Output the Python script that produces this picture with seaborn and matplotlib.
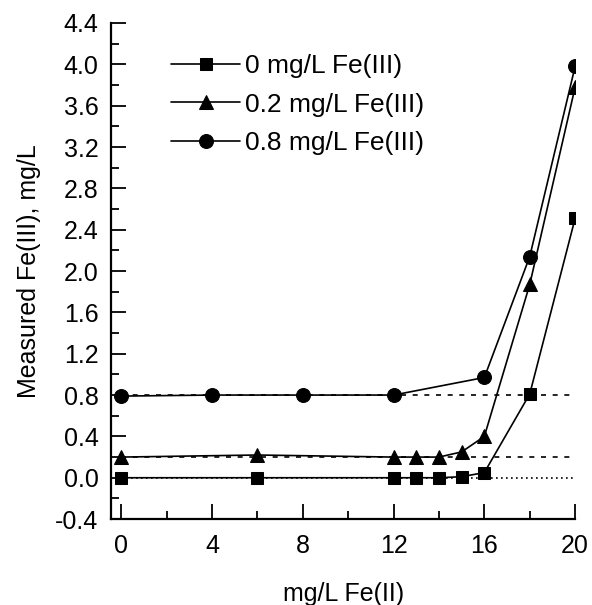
import numpy as np
import pandas as pd
import matplotlib.pyplot as plt
import seaborn as sns

sns.set_style("ticks")
plt.rcParams['font.family'] = ['Liberation Sans', 'DejaVu Sans']
plt.rcParams['axes.unicode_minus'] = False
plt.rcParams['text.color'] = 'black'
plt.rcParams['axes.labelcolor'] = 'black'
plt.rcParams['xtick.color'] = 'black'
plt.rcParams['ytick.color'] = 'black'
plt.rcParams['axes.edgecolor'] = 'black'

# 데이터
x_fe0 = [0, 6, 12, 13, 14, 15, 16, 18, 20]
y_fe0 = [0.0, 0.0, 0.0, 0.0, 0.0, 0.01, 0.05, 0.81, 2.51]

x_fe02 = [0, 6, 12, 13, 14, 15, 16, 18, 20]
y_fe02 = [0.20, 0.22, 0.20, 0.20, 0.20, 0.25, 0.40, 1.87, 3.78]

x_fe08 = [0, 4, 8, 12, 16, 18, 20]
y_fe08 = [0.79, 0.80, 0.80, 0.80, 0.97, 2.14, 3.98]

labels = ['0 mg/L Fe(III)', '0.2 mg/L Fe(III)', '0.8 mg/L Fe(III)']
ref_levels = [0.0, 0.2, 0.8]
ref_styles = [(0, (1, 2)), (0, (3, 4)), (0, (3, 4))]

fig = plt.figure(figsize=(5.92, 6.05), dpi=100)
ax = fig.add_axes([0.1875, 0.142, 0.784, 0.820])

# 기준선 (점선)
for lvl, ls in zip(ref_levels, ref_styles):
    ax.hlines(lvl, 0, 20, colors='black', linestyles=ls, linewidth=1.2, zorder=1)

series = [(x_fe0, y_fe0, 's', 9), (x_fe02, y_fe02, '^', 10.5), (x_fe08, y_fe08, 'o', 10)]
for (xs, ys, mk, ms), lab in zip(series, labels):
    sns.lineplot(x=xs, y=ys, ax=ax, color='black', marker=mk, markersize=ms,
                 markeredgecolor='black', linewidth=1.2, label=lab, zorder=3)

ax.set_xlim(-0.45, 20)
ax.set_ylim(-0.4, 4.4)
ax.set_xticks(np.arange(0, 21, 4))
ax.set_xticks(np.arange(0, 21, 2), minor=True)
ax.set_yticks(np.arange(-0.4, 4.41, 0.4))
ax.set_yticks(np.arange(-0.4, 4.41, 0.2), minor=True)
ax.set_yticklabels(['%.1f' % v for v in np.arange(-0.4, 4.41, 0.4)])
ax.tick_params(which='major', direction='in', length=11, width=1.3, labelsize=18, pad=9)
ax.tick_params(which='minor', direction='in', length=6, width=1.3)
ax.tick_params(axis='x', which='major', pad=11)
for s in ['left', 'bottom']:
    ax.spines[s].set_linewidth(1.6)
sns.despine(ax=ax)

ax.set_xlabel('mg/L Fe(II)', fontsize=18, labelpad=17)
ax.set_ylabel('Measured Fe(III), mg/L', fontsize=18, labelpad=10)

ax.legend(loc='upper left', bbox_to_anchor=(0.107, 0.959), frameon=False, fontsize=19,
          handlelength=2.6, handletextpad=0.2, labelspacing=0.56, borderaxespad=0)

fig.savefig('out.png', dpi=100)
